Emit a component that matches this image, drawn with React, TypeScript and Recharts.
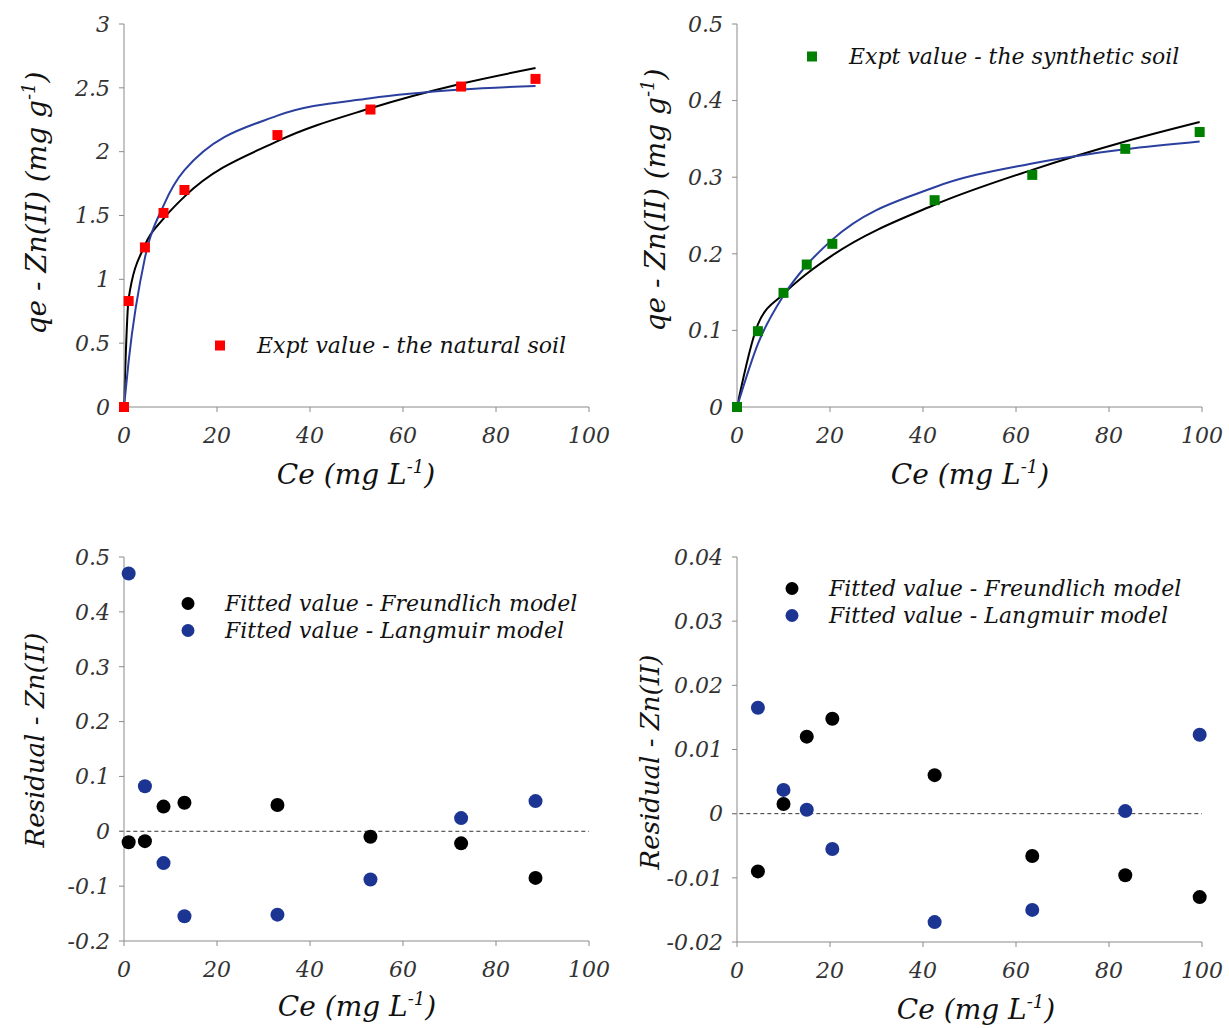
import React from 'react';
import { ComposedChart, Line, Scatter, XAxis, YAxis, Legend, ReferenceLine, Label } from 'recharts';

const FONT = '"DejaVu Serif", serif';
const AXIS_COLOR = '#8a8a8a';
const TICK_COLOR = '#333333';
const TEXT_COLOR = '#111111';
const BLUE_LINE = '#2b3f9e';
const BLUE_DOT = '#1c3593';

const ceTicks = [0, 20, 40, 60, 80, 100];

// natural soil
const naturalCe = [0, 1, 4.5, 8.5, 13, 33, 53, 72.5, 88.5];
const naturalQe = [0, 0.83, 1.25, 1.52, 1.7, 2.13, 2.33, 2.51, 2.57];
const naturalFreundlich = [0, 0.85, 1.268, 1.475, 1.648, 2.082, 2.34, 2.532, 2.655];
const naturalLangmuir = [0, 0.36, 1.168, 1.578, 1.855, 2.282, 2.418, 2.486, 2.515];
const naturalResCe = [1, 4.5, 8.5, 13, 33, 53, 72.5, 88.5];
const naturalResFreundlich = [-0.02, -0.018, 0.045, 0.052, 0.048, -0.01, -0.022, -0.085];
const naturalResLangmuir = [0.47, 0.082, -0.058, -0.155, -0.152, -0.088, 0.024, 0.055];
const naturalTicks = [0, 0.5, 1, 1.5, 2, 2.5, 3];
const naturalResTicks = [-0.2, -0.1, 0, 0.1, 0.2, 0.3, 0.4, 0.5];

// synthetic soil
const syntheticCe = [0, 4.5, 10, 15, 20.5, 42.5, 63.5, 83.5, 99.5];
const syntheticQe = [0, 0.099, 0.149, 0.186, 0.213, 0.27, 0.303, 0.337, 0.359];
const syntheticFreundlich = [0, 0.108, 0.1475, 0.174, 0.198, 0.264, 0.3096, 0.3466, 0.372];
const syntheticLangmuir = [0, 0.0825, 0.1453, 0.1854, 0.2185, 0.2869, 0.318, 0.3366, 0.3467];
const syntheticResCe = [4.5, 10, 15, 20.5, 42.5, 63.5, 83.5, 99.5];
const syntheticResFreundlich = [-0.009, 0.0015, 0.012, 0.0148, 0.006, -0.0066, -0.0096, -0.013];
const syntheticResLangmuir = [0.0165, 0.0037, 0.0006, -0.0055, -0.0169, -0.015, 0.0004, 0.0123];
const syntheticTicks = [0, 0.1, 0.2, 0.3, 0.4, 0.5];
const syntheticResTicks = [-0.02, -0.01, 0, 0.01, 0.02, 0.03, 0.04];

type Pt = { x: number; y: number };
const zip = (xs: number[], ys: number[]): Pt[] => ys.map((y, i) => ({ x: xs[i], y }));

type LegendItem = { label: string; color: string; shape: 'square' | 'dot' };

const square = (color: string) => (p: any) => (
  <rect x={p.cx - 5} y={p.cy - 5} width={10} height={10} fill={color} />
);
const dot = (color: string) => (p: any) => <circle cx={p.cx} cy={p.cy} r={7} fill={color} />;

const tickStyle = { fill: TICK_COLOR, fontSize: 22, fontFamily: FONT, fontStyle: 'italic' };
const titleStyle = { fill: TEXT_COLOR, fontFamily: FONT, fontStyle: 'italic' };

function LegendBox({ items }: { items: LegendItem[] }) {
  return (
    <div style={{ fontFamily: FONT, fontStyle: 'italic', fontSize: 22, color: TEXT_COLOR }}>
      {items.map((it) => (
        <div key={it.label} style={{ display: 'flex', alignItems: 'center', height: 27, whiteSpace: 'nowrap' }}>
          <svg width={45} height={27}>
            {it.shape === 'square' ? (
              <rect x={3} y={8.5} width={10} height={10} fill={it.color} />
            ) : (
              <circle cx={8} cy={13.5} r={6.5} fill={it.color} />
            )}
          </svg>
          <span>{it.label}</span>
        </div>
      ))}
    </div>
  );
}

interface PanelProps {
  left: number;
  top: number;
  height: number;
  marginTop: number;
  marginBottom: number;
  yDomain: [number, number];
  yTicks: number[];
  lines?: { data: Pt[]; color: string }[];
  points: { data: Pt[]; shape: (p: any) => React.ReactElement }[];
  legend: LegendItem[];
  legendPos: { left: number; top: number };
  yTitle: 'qe' | 'residual';
  yTitlePos: { x: number; y: number };
  xTitlePos: { x: number; y: number };
  zeroLine?: boolean;
}

function Panel(props: PanelProps) {
  const { yTitlePos, xTitlePos } = props;
  const xTitle = () => (
    <text x={xTitlePos.x} y={xTitlePos.y} textAnchor="middle" fontSize={28} {...titleStyle}>
      Ce (mg L
      <tspan dy={-11} fontSize={18}>-1</tspan>
      <tspan dy={11}>)</tspan>
    </text>
  );
  const yTitle = () => (
    <text
      x={yTitlePos.x}
      y={yTitlePos.y}
      textAnchor="middle"
      transform={`rotate(-90, ${yTitlePos.x}, ${yTitlePos.y})`}
      fontSize={props.yTitle === 'qe' ? 28 : 26}
      {...titleStyle}
    >
      {props.yTitle === 'qe' ? (
        <>
          qe - Zn(II) (mg g
          <tspan dy={-11} fontSize={18}>-1</tspan>
          <tspan dy={11}>)</tspan>
        </>
      ) : (
        'Residual - Zn(II)'
      )}
    </text>
  );

  return (
    <div style={{ position: 'absolute', left: props.left, top: props.top }}>
      <ComposedChart
        width={610}
        height={props.height}
        margin={{ top: props.marginTop, right: 21, bottom: props.marginBottom, left: 40 }}
      >
        <XAxis
          type="number"
          dataKey="x"
          domain={[0, 100]}
          ticks={ceTicks}
          interval={0}
          height={60}
          tickSize={5}
          tickMargin={15}
          stroke={AXIS_COLOR}
          tick={tickStyle}
        >
          <Label content={xTitle} />
        </XAxis>
        <YAxis
          type="number"
          dataKey="y"
          domain={props.yDomain}
          ticks={props.yTicks}
          interval={0}
          width={84}
          tickSize={5}
          tickMargin={9}
          stroke={AXIS_COLOR}
          tick={tickStyle}
        >
          <Label content={yTitle} />
        </YAxis>
        {props.zeroLine && (
          <ReferenceLine
            segment={[{ x: -1, y: 0 }, { x: 100, y: 0 }]}
            ifOverflow="visible"
            stroke="#333"
            strokeWidth={1}
            strokeDasharray="4 3"
          />
        )}
        {(props.lines || []).map((l, i) => (
          <Line
            key={`line-${i}`}
            data={l.data}
            dataKey="y"
            type="monotone"
            stroke={l.color}
            strokeWidth={2}
            dot={false}
            activeDot={false}
            isAnimationActive={false}
          />
        ))}
        {props.points.map((s, i) => (
          <Scatter key={`pts-${i}`} data={s.data} dataKey="y" shape={s.shape} isAnimationActive={false} />
        ))}
        <Legend
          layout="vertical"
          align="center"
          verticalAlign="middle"
          wrapperStyle={{ left: props.legendPos.left, top: props.legendPos.top, width: 'auto' }}
          content={() => <LegendBox items={props.legend} />}
        />
      </ComposedChart>
    </div>
  );
}

export default function App() {
  return (
    <div style={{ position: 'absolute', left: 0, top: 0, width: 1229, height: 1028, background: '#ffffff' }}>
      <Panel
        left={0}
        top={0}
        height={500}
        marginTop={24}
        marginBottom={33}
        yDomain={[0, 3]}
        yTicks={naturalTicks}
        lines={[
          { data: zip(naturalCe, naturalFreundlich), color: '#000000' },
          { data: zip(naturalCe, naturalLangmuir), color: BLUE_LINE },
        ]}
        points={[{ data: zip(naturalCe, naturalQe), shape: square('#ff0000') }]}
        legend={[{ label: 'Expt value - the natural soil', color: '#ff0000', shape: 'square' }]}
        legendPos={{ left: 212, top: 332 }}
        yTitle="qe"
        yTitlePos={{ x: 46, y: 203 }}
        xTitlePos={{ x: 356, y: 484 }}
      />
      <Panel
        left={613}
        top={0}
        height={500}
        marginTop={24}
        marginBottom={33}
        yDomain={[0, 0.5]}
        yTicks={syntheticTicks}
        lines={[
          { data: zip(syntheticCe, syntheticFreundlich), color: '#000000' },
          { data: zip(syntheticCe, syntheticLangmuir), color: BLUE_LINE },
        ]}
        points={[{ data: zip(syntheticCe, syntheticQe), shape: square('#008000') }]}
        legend={[{ label: 'Expt value - the synthetic soil', color: '#008000', shape: 'square' }]}
        legendPos={{ left: 191, top: 43 }}
        yTitle="qe"
        yTitlePos={{ x: 52, y: 200 }}
        xTitlePos={{ x: 357, y: 484 }}
      />
      <Panel
        left={0}
        top={510}
        height={518}
        marginTop={47}
        marginBottom={27}
        yDomain={[-0.2, 0.5]}
        yTicks={naturalResTicks}
        points={[
          { data: zip(naturalResCe, naturalResFreundlich), shape: dot('#000000') },
          { data: zip(naturalResCe, naturalResLangmuir), shape: dot(BLUE_DOT) },
        ]}
        legend={[
          { label: 'Fitted value - Freundlich model', color: '#000000', shape: 'dot' },
          { label: 'Fitted value - Langmuir model', color: BLUE_DOT, shape: 'dot' },
        ]}
        legendPos={{ left: 180, top: 80 }}
        yTitle="residual"
        yTitlePos={{ x: 44, y: 230 }}
        xTitlePos={{ x: 357, y: 506 }}
        zeroLine
      />
      <Panel
        left={613}
        top={510}
        height={518}
        marginTop={47}
        marginBottom={26}
        yDomain={[-0.02, 0.04]}
        yTicks={syntheticResTicks}
        points={[
          { data: zip(syntheticResCe, syntheticResFreundlich), shape: dot('#000000') },
          { data: zip(syntheticResCe, syntheticResLangmuir), shape: dot(BLUE_DOT) },
        ]}
        legend={[
          { label: 'Fitted value - Freundlich model', color: '#000000', shape: 'dot' },
          { label: 'Fitted value - Langmuir model', color: BLUE_DOT, shape: 'dot' },
        ]}
        legendPos={{ left: 171, top: 65 }}
        yTitle="residual"
        yTitlePos={{ x: 46, y: 252 }}
        xTitlePos={{ x: 363, y: 509 }}
        zeroLine
      />
    </div>
  );
}
